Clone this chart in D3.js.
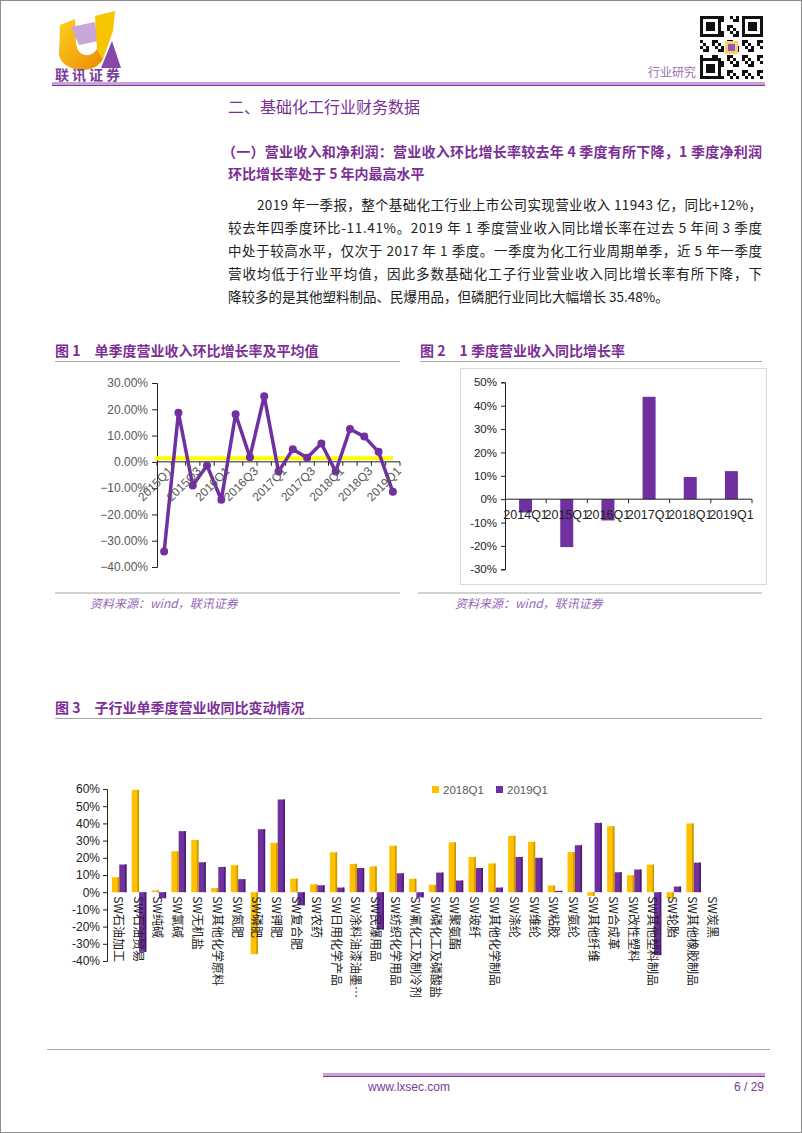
<!DOCTYPE html>
<html>
<head>
<meta charset="utf-8">
<script src="https://cdn.jsdelivr.net/npm/d3@7"></script>
<style>
  body { margin: 0; background: #fff; }
  svg text { font-family: "Noto Sans CJK SC", "Noto Sans", sans-serif; }
  .num { font-family: "Liberation Sans", Arial, sans-serif; }
</style>
</head>
<body>
<svg id="page" width="802" height="1133"></svg>
<script>
// DATA ------------------------------------**
// chart 1: quarter-on-quarter revenue growth (%)
const c1Quarters = ['2015Q1','2015Q2','2015Q3','2015Q4','2016Q1','2016Q2','2016Q3','2016Q4',
  '2017Q1','2017Q2','2017Q3','2017Q4','2018Q1','2018Q2','2018Q3','2018Q4','2019Q1'];
const c1Growth = [-34.1, 18.7, -9.0, -1.4, -14.4, 18.1, 1.8, 25.0,
  -3.7, 4.8, 1.6, 7.0, -3.7, 12.5, 9.6, 3.8, -11.41];
const c1Average = 1.4;
const c1Ticks = [30, 20, 10, 0, -10, -20, -30, -40];

// chart 2: Q1 revenue growth, year on year (%)
const c2Quarters = ['2014Q1','2015Q1','2016Q1','2017Q1','2018Q1','2019Q1'];
const c2Growth = [-5.7, -20.5, -9.1, 43.8, 9.5, 12.0];
const c2Ticks = [50, 40, 30, 20, 10, 0, -10, -20, -30];

// chart 3: sub-industry Q1 revenue growth (%)
const c3Industries = ['SW石油加工','SW石油贸易','SW纯碱','SW氯碱','SW无机盐','SW其他化学原料','SW氮肥',
  'SW磷肥','SW钾肥','SW复合肥','SW农药','SW日用化学产品','SW涂料油漆油墨…','SW民爆用品','SW纺织化学用品',
  'SW氟化工及制冷剂','SW磷化工及磷酸盐','SW聚氨酯','SW玻纤','SW其他化学制品','SW涤纶','SW维纶','SW粘胶',
  'SW氨纶','SW其他纤维','SW合成革','SW改性塑料','SW其他塑料制品','SW轮胎','SW其他橡胶制品','SW炭黑'];
const c3Q2018 = [8.7, 59.5, 1.0, 23.8, 30.4, 2.5, 15.7, -36.0, 28.7, 7.9, 4.6, 23.2, 16.5, 15.0, 27.0,
  7.8, 4.3, 29.0, 20.5, 16.7, 32.8, 29.3, 3.9, 23.4, -2.1, 38.4, 9.9, 16.0, -3.7, 40.0, 0];
const c3Q2019 = [16.1, -34.7, -3.5, 35.5, 17.4, 14.7, 7.6, 36.6, 53.9, -7.6, 4.0, 2.7, 14.1, -21.7, 11.0,
  -3.0, 11.4, 6.8, 14.1, 2.7, 20.5, 20.0, 0.8, 27.3, 40.3, 11.6, 13.2, -36.6, 3.3, 17.2, 0];
const c3Series = ['2018Q1', '2019Q1'];
const c3Ticks = [60, 50, 40, 30, 20, 10, 0, -10, -20, -30, -40];

const purple = '#7030A0';
const gold = '#FFC000';
const titlePurple = '#7B2F96';

const svg = d3.select('#page');

// PAGE FRAME ------------------------------**
svg.append('rect').attr('x', 0.5).attr('y', 0.5).attr('width', 801).attr('height', 1132)
  .attr('fill', '#fff').attr('stroke', '#8c8c8c');

// logo
const logo = svg.append('g').attr('transform', 'translate(55,11)');
const grad = svg.append('defs').append('linearGradient').attr('id', 'lg').attr('x1', 0).attr('y1', 0).attr('x2', 1).attr('y2', 1);
grad.append('stop').attr('offset', '0%').attr('stop-color', '#ffd21f');
grad.append('stop').attr('offset', '100%').attr('stop-color', '#e98a00');
logo.append('path').attr('d', 'M5,14 L20,8 L21,32 C22,46 36,48 42,38 L48,48 C40,64 8,62 4,44 Z').attr('fill', 'url(#lg)');
logo.append('path').attr('d', 'M16,16 L40,11 L43,30 L24,34 Z').attr('fill', '#c7a6d8');
logo.append('path').attr('d', 'M40,5 L60,0 L58,20 L48,48 L42,38 Z').attr('fill', '#f6c400');
logo.append('path').attr('d', 'M57,30 L66,57 L46,57 Z').attr('fill', '#8a45a8');
logo.append('text').attr('x', 0).attr('y', 69).attr('font-size', 14).attr('font-weight', 'bold')
  .attr('letter-spacing', 3).attr('fill', '#7a3a98').text('联讯证券');

// QR block (decorative)
const qr = svg.append('g').attr('transform', 'translate(700,16)');
const qn = 21, qs = 3;
d3.range(qn * qn).forEach(i => {
  const r = Math.floor(i / qn), c = i % qn;
  const inFinder = (a, b) => a < 7 && b < 7;
  let on;
  if (inFinder(r, c) || inFinder(r, qn - 1 - c) || inFinder(qn - 1 - r, c)) {
    const rr = r < 7 ? r : qn - 1 - r, cc = c < 7 ? c : qn - 1 - c;
    const d = Math.max(Math.abs(rr - 3), Math.abs(cc - 3));
    on = d !== 2;
  } else {
    on = ((r * 7 + c * 13 + r * c) % 5) < 2;
  }
  if (on) qr.append('rect').attr('x', c * qs).attr('y', r * qs).attr('width', qs).attr('height', qs).attr('fill', '#111');
});
qr.append('rect').attr('x', 25).attr('y', 25).attr('width', 13).attr('height', 13).attr('fill', '#f3d46a');
qr.append('rect').attr('x', 28).attr('y', 28).attr('width', 7).attr('height', 7).attr('fill', '#9b59b6');

svg.append('text').attr('x', 696).attr('y', 77).attr('text-anchor', 'end').attr('font-size', 12)
  .attr('fill', '#9a72b0').text('行业研究');
svg.append('rect').attr('x', 52).attr('y', 82).attr('width', 713).attr('height', 3).attr('fill', '#c9a2dc');
svg.append('rect').attr('x', 52).attr('y', 85).attr('width', 713).attr('height', 1).attr('fill', '#7d3c98');

// TEXT BLOCK ------------------------------**
svg.append('text').attr('x', 228).attr('y', 113).attr('font-size', 16).attr('fill', titlePurple)
  .text('二、基础化工行业财务数据');
svg.append('text').attr('x', 222).attr('y', 157).attr('font-size', 14).attr('font-weight', 'bold')
  .attr('fill', titlePurple).attr('textLength', 540).attr('lengthAdjust', 'spacing')
  .text('（一）营业收入和净利润：营业收入环比增长率较去年 4 季度有所下降，1 季度净利润');
svg.append('text').attr('x', 228).attr('y', 179).attr('font-size', 14).attr('font-weight', 'bold')
  .attr('fill', titlePurple).text('环比增长率处于 5 年内最高水平');

const para = [
  {x: 257, w: 505, t: '2019 年一季报，整个基础化工行业上市公司实现营业收入 11943 亿，同比+12%，'},
  {x: 228, w: 534, t: '较去年四季度环比-11.41%。2019 年 1 季度营业收入同比增长率在过去 5 年间 3 季度'},
  {x: 228, w: 534, t: '中处于较高水平，仅次于 2017 年 1 季度。一季度为化工行业周期单季，近 5 年一季度'},
  {x: 228, w: 534, t: '营收均低于行业平均值，因此多数基础化工子行业营业收入同比增长率有所下降，下'},
  {x: 228, w: 0, t: '降较多的是其他塑料制品、民爆用品，但磷肥行业同比大幅增长 35.48%。'}
];
para.forEach((p, i) => {
  const t = svg.append('text').attr('x', p.x).attr('y', 210 + i * 23).attr('font-size', 13.5)
    .attr('fill', '#222').text(p.t);
  if (p.w) t.attr('textLength', p.w).attr('lengthAdjust', 'spacing');
});

// helpers
function figTitle(x, y, lineX2, label, text) {
  const t = svg.append('text').attr('x', x).attr('y', y).attr('font-size', 14).attr('font-weight', 'bold')
    .attr('fill', titlePurple);
  t.append('tspan').text(label);
  t.append('tspan').attr('dx', 14).text(text);
  svg.append('line').attr('x1', x).attr('x2', lineX2).attr('y1', y + 5.5).attr('y2', y + 5.5)
    .attr('stroke', '#a6a6a6').attr('stroke-width', 1.2);
}
function source(x, y, lineX1, lineX2) {
  svg.append('line').attr('x1', lineX1).attr('x2', lineX2).attr('y1', y - 15).attr('y2', y - 15)
    .attr('stroke', '#a6a6a6').attr('stroke-width', 1.2);
  svg.append('text').attr('x', x).attr('y', y).attr('font-size', 12).attr('font-style', 'italic')
    .attr('fill', '#9467b8').text('资料来源：wind，联讯证券');
}

// CHART 1 ---------------------------------**
figTitle(55, 356, 400, '图 1', '单季度营业收入环比增长率及平均值');
source(90, 608, 55, 400);

const x1 = d3.scaleBand().domain(c1Quarters).range([157, 400]);
const y1 = d3.scaleLinear().domain([-40, 30]).range([567, 383]);

const g1 = svg.append('g');
g1.append('g').attr('transform', 'translate(157,0)')
  .call(d3.axisLeft(y1).tickValues(c1Ticks).tickSize(5).tickFormat(d => d3.format('.2f')(d) + '%'))
  .call(g => g.select('.domain').attr('stroke', '#222'))
  .call(g => g.selectAll('.tick line').attr('stroke', '#222'))
  .call(g => g.selectAll('.tick text').attr('class', 'num').attr('font-size', 12).attr('fill', '#595959').attr('x', -9));

// x axis at zero
g1.append('line').attr('x1', 157).attr('x2', 400).attr('y1', y1(0)).attr('y2', y1(0)).attr('stroke', '#222');
g1.selectAll('.xt').data(c1Quarters.concat(['end'])).enter().append('line')
  .attr('x1', (d, i) => 157 + i * x1.step()).attr('x2', (d, i) => 157 + i * x1.step())
  .attr('y1', y1(0)).attr('y2', y1(0) + 4).attr('stroke', '#222');

// average line
g1.append('line').attr('x1', 155).attr('x2', x1(c1Quarters[c1Quarters.length - 1]) + x1.bandwidth() / 2)
  .attr('y1', y1(c1Average)).attr('y2', y1(c1Average)).attr('stroke', '#FFFF00').attr('stroke-width', 4);

const line1 = d3.line().x((d, i) => x1(c1Quarters[i]) + x1.bandwidth() / 2).y(d => y1(d));
g1.append('path').datum(c1Growth).attr('d', line1).attr('fill', 'none')
  .attr('stroke', purple).attr('stroke-width', 3.5).attr('stroke-linejoin', 'round');
g1.selectAll('.pt').data(c1Growth).enter().append('circle')
  .attr('cx', (d, i) => x1(c1Quarters[i]) + x1.bandwidth() / 2).attr('cy', d => y1(d))
  .attr('r', 4).attr('fill', purple);

g1.selectAll('.xl').data(c1Quarters.filter((d, i) => i % 2 === 0)).enter().append('text')
  .attr('class', 'num').attr('font-size', 12).attr('fill', '#595959').attr('text-anchor', 'end')
  .attr('transform', d => 'translate(' + (x1(d) + x1.bandwidth() / 2 + 9) + ',' + (y1(0) + 10) + ') rotate(-45)')
  .text(d => d);

// CHART 2 ---------------------------------**
figTitle(420, 356, 762, '图 2', '1 季度营业收入同比增长率');
source(455, 608, 418, 762);
svg.append('rect').attr('x', 460.5).attr('y', 368.5).attr('width', 306).attr('height', 216)
  .attr('fill', '#fff').attr('stroke', '#d9d9d9');

const x2 = d3.scaleBand().domain(c2Quarters).range([505, 752]);
const y2 = d3.scaleLinear().domain([-30, 50]).range([569.3, 382.3]);
const g2 = svg.append('g');
g2.selectAll('.bar').data(c2Growth).enter().append('rect')
  .attr('x', (d, i) => x2(c2Quarters[i]) + x2.bandwidth() / 2 - 6.5)
  .attr('width', 13)
  .attr('y', d => y2(Math.max(0, d)))
  .attr('height', d => Math.abs(y2(d) - y2(0)))
  .attr('fill', purple);
g2.append('g').attr('transform', 'translate(505,0)')
  .call(d3.axisLeft(y2).tickValues(c2Ticks).tickSize(4).tickFormat(d => d + '%'))
  .call(g => g.select('.domain').attr('stroke', '#222'))
  .call(g => g.selectAll('.tick line').attr('stroke', '#222'))
  .call(g => g.selectAll('.tick text').attr('class', 'num').attr('font-size', 11.5).attr('fill', '#222').attr('x', -8));
g2.append('line').attr('x1', 505).attr('x2', 752).attr('y1', y2(0)).attr('y2', y2(0)).attr('stroke', '#222');
g2.selectAll('.xt').data(c2Quarters).enter().append('line')
  .attr('x1', d => x2(d) + x2.step()).attr('x2', d => x2(d) + x2.step())
  .attr('y1', y2(0)).attr('y2', y2(0) + 4).attr('stroke', '#222');
g2.selectAll('.xl').data(c2Quarters).enter().append('text')
  .attr('class', 'num').attr('font-size', 12.5).attr('fill', '#222').attr('text-anchor', 'middle')
  .attr('x', d => x2(d) + x2.bandwidth() / 2).attr('y', y2(0) + 20).text(d => d);

// CHART 3 ---------------------------------**
figTitle(55, 713, 762, '图 3', '子行业单季度营业收同比变动情况');
svg.append('line').attr('x1', 47).attr('x2', 770).attr('y1', 1049.5).attr('y2', 1049.5)
  .attr('stroke', '#a6a6a6').attr('stroke-width', 1.2);

const x3 = d3.scaleBand().domain(c3Industries).range([107, 721]);
const xs3 = d3.scaleBand().domain(c3Series).range([5, 19.5]);
const y3 = d3.scaleLinear().domain([-40, 60]).range([961, 789]);
const colors3 = {'2018Q1': gold, '2019Q1': purple};
const sides3 = {'2018Q1': '#c99700', '2019Q1': '#4a1d6e'};

const rows3 = c3Industries.map((name, i) => ({name, vals: [
  {key: '2018Q1', v: c3Q2018[i]}, {key: '2019Q1', v: c3Q2019[i]}]}));

const g3 = svg.append('g');
const grp = g3.selectAll('.grp').data(rows3).enter().append('g')
  .attr('transform', d => 'translate(' + x3(d.name) + ',0)');
grp.selectAll('.b').data(d => d.vals.filter(v => v.v !== 0)).enter().append('rect')
  .attr('x', d => xs3(d.key)).attr('width', xs3.bandwidth())
  .attr('y', d => y3(Math.max(0, d.v))).attr('height', d => Math.abs(y3(d.v) - y3(0)))
  .attr('fill', d => colors3[d.key]);
grp.selectAll('.s').data(d => d.vals.filter(v => v.v !== 0)).enter().append('rect')
  .attr('x', d => xs3(d.key) + xs3.bandwidth() - 1.6).attr('width', 1.6)
  .attr('y', d => y3(Math.max(0, d.v))).attr('height', d => Math.abs(y3(d.v) - y3(0)))
  .attr('fill', d => sides3[d.key]);

g3.append('g').attr('transform', 'translate(107,0)')
  .call(d3.axisLeft(y3).tickValues(c3Ticks).tickSize(4).tickFormat(d => d + '%'))
  .call(g => g.select('.domain').attr('stroke', '#222'))
  .call(g => g.selectAll('.tick line').attr('stroke', '#222'))
  .call(g => g.selectAll('.tick text').attr('class', 'num').attr('font-size', 12).attr('fill', '#222').attr('x', -7));

g3.selectAll('.xl').data(c3Industries).enter().append('text')
  .attr('font-size', 12).attr('fill', '#222').attr('dy', '0.35em')
  .attr('transform', d => 'translate(' + (x3(d) + x3.bandwidth() / 2 + 1) + ',' + (y3(0) + 4) + ') rotate(90)')
  .text(d => d);

// legend
const leg = g3.selectAll('.leg').data(c3Series).enter().append('g')
  .attr('transform', (d, i) => 'translate(' + (432 + i * 64) + ',786)');
leg.append('rect').attr('width', 7).attr('height', 7).attr('fill', d => colors3[d]);
leg.append('text').attr('class', 'num').attr('x', 11).attr('y', 7.5).attr('font-size', 11.5)
  .attr('fill', '#595959').text(d => d);

// FOOTER ----------------------------------**
svg.append('rect').attr('x', 323).attr('y', 1073).attr('width', 442).attr('height', 3).attr('fill', '#c9a2dc');
svg.append('rect').attr('x', 323).attr('y', 1076).attr('width', 442).attr('height', 1).attr('fill', '#7d3c98');
svg.append('text').attr('class', 'num').attr('x', 368).attr('y', 1091).attr('font-size', 12)
  .attr('fill', '#7a3a98').text('www.lxsec.com');
svg.append('text').attr('class', 'num').attr('x', 764).attr('y', 1091).attr('font-size', 12)
  .attr('text-anchor', 'end').attr('fill', '#7a3a98').text('6 / 29');
</script>
</body>
</html>
